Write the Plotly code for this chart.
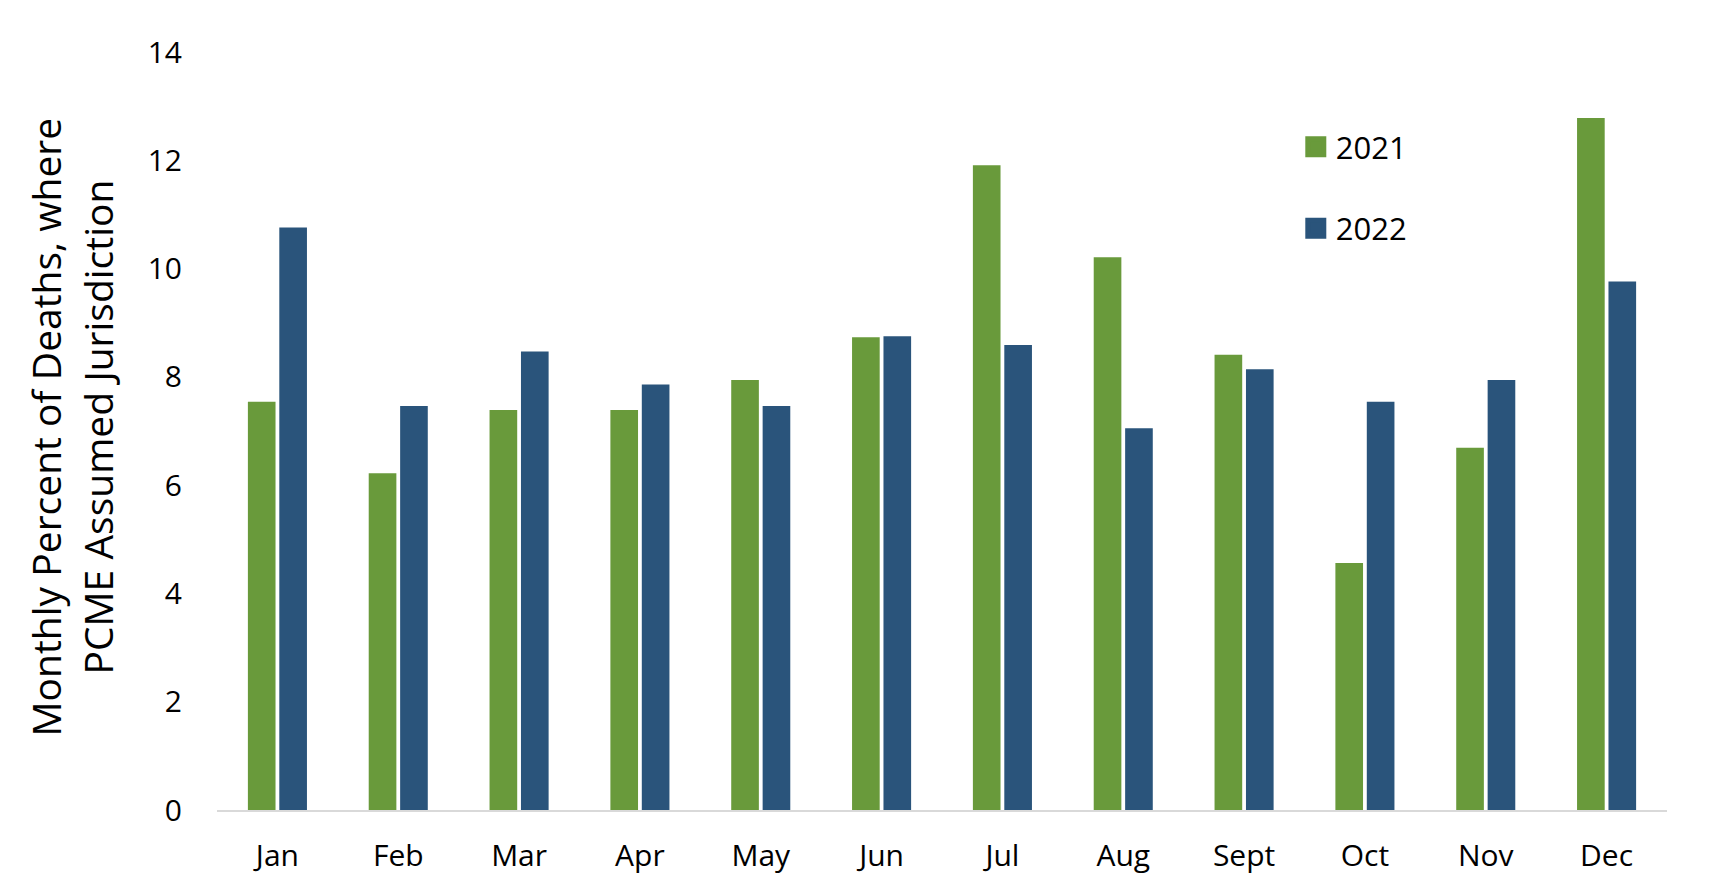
import plotly.graph_objects as go

months = ["Jan", "Feb", "Mar", "Apr", "May", "Jun", "Jul", "Aug", "Sept", "Oct", "Nov", "Dec"]
vals_2021 = [7.54, 6.22, 7.39, 7.39, 7.94, 8.73, 11.91, 10.21, 8.41, 4.56, 6.69, 12.78]
vals_2022 = [10.76, 7.46, 8.47, 7.86, 7.46, 8.75, 8.59, 7.05, 8.14, 7.54, 7.94, 9.76]
series_names = ["2021", "2022"]
colors = ["#699a3b", "#2a547b"]
y_ticks = [0, 2, 4, 6, 8, 10, 12, 14]
title_lines = ["Monthly Percent of Deaths, where", "PCME Assumed Jurisdiction"]

FONT = "Open Sans"
L, R, T, B = 209, 61, 44, 84
PW, PH = 1720 - L - R, 886 - T - B
OFF = 8  # page body margin

fig = go.Figure()
for name, vals, col in zip(series_names, [vals_2021, vals_2022], colors):
    fig.add_trace(go.Bar(x=months, y=vals, name=name, marker_color=col,
                         marker_line_width=0, showlegend=False))
# legend entries with larger square symbols
for name, col in zip(series_names, colors):
    fig.add_trace(go.Scatter(x=[None], y=[None], mode="markers", name=name,
                             legendgroup=name,
                             marker=dict(symbol="square", size=16, color=col,
                                         line=dict(width=5, color=col))))

fig.update_layout(
    width=1720, height=886,
    margin=dict(l=L, r=R, t=T, b=B),
    paper_bgcolor="white", plot_bgcolor="white",
    barmode="group", bargap=0.48, bargroupgap=0.12,
    font=dict(family=FONT, color="#000000"),
    legend=dict(x=0.744, y=0.91, xanchor="left", yanchor="top",
                font=dict(size=31, family=FONT), tracegroupgap=38,
                traceorder="grouped", bgcolor="rgba(0,0,0,0)"),
    xaxis=dict(showline=True, linecolor="#d9d9d9", linewidth=1.5,
               showgrid=False, ticks="", tickfont=dict(size=30),
               ticklabelstandoff=18),
    yaxis=dict(range=[0, 14], tickvals=y_ticks, showgrid=False,
               zeroline=False, showline=False, ticks="",
               tickfont=dict(size=30), ticklabelstandoff=34),
)

for line, xpage in zip(title_lines, [45.5, 97.5]):
    fig.add_annotation(text=line, xref="paper", yref="paper",
                       x=(xpage - OFF - L) / PW,
                       y=1 - (427 - OFF - T) / PH,
                       xanchor="center", yanchor="middle", textangle=-90,
                       showarrow=False, font=dict(size=39, family=FONT, color="#000000"))

fig.write_html("out.html")
